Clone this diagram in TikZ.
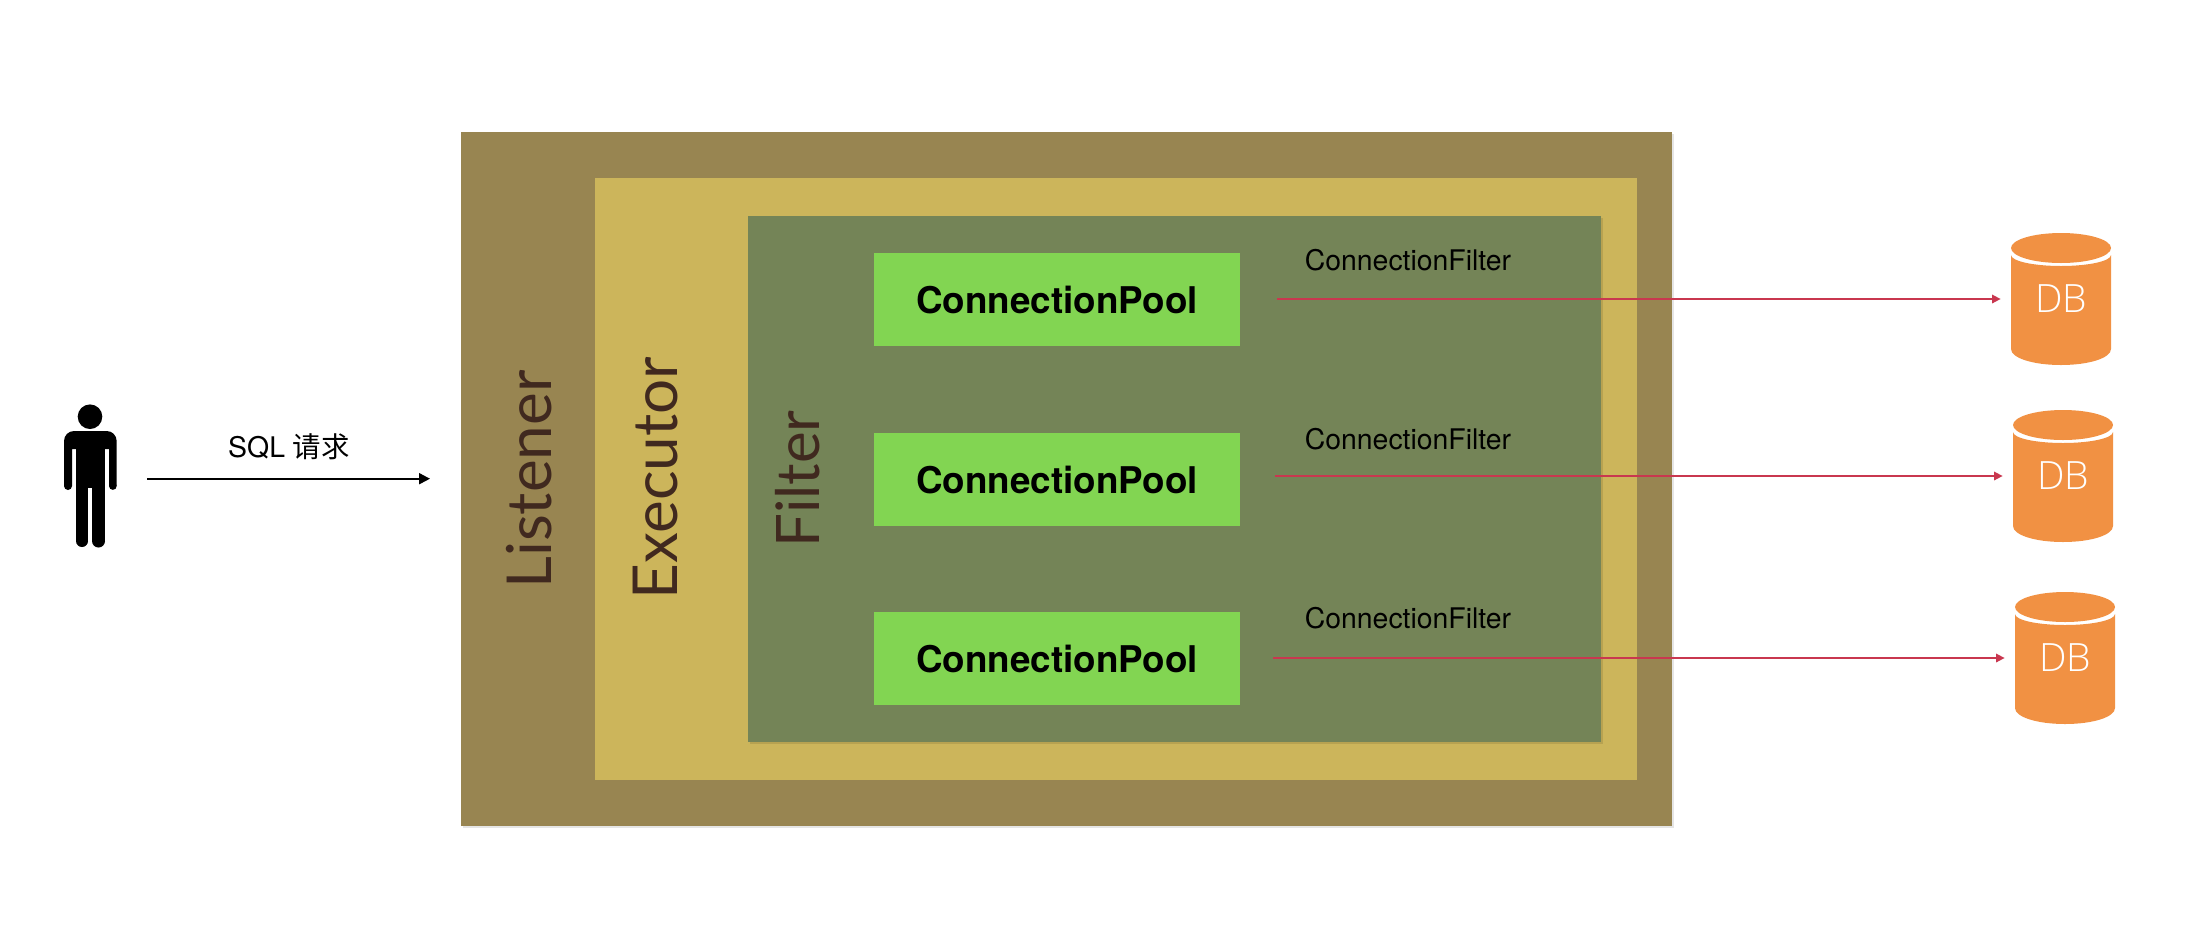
\documentclass[tikz,border=0pt]{standalone}
\usepackage{fontspec}
\setmainfont{TeX Gyre Heros}
\newfontfamily\cjkf{Noto Sans CJK SC}
\newfontfamily\handf{Lato}
\newfontfamily\dbf{Open Sans Light}
\usetikzlibrary{arrows.meta,calc,shadows}
\definecolor{outerc}{HTML}{988551}
\definecolor{execc}{HTML}{CCB55B}
\definecolor{filterc}{HTML}{748457}
\definecolor{poolc}{HTML}{82D552}
\definecolor{dbc}{HTML}{F19143}
\definecolor{redc}{HTML}{C9374F}
\definecolor{handc}{HTML}{40291F}
\tikzset{
  x=0.5pt,y=-0.5pt,
  panel/.style={draw=none,inner sep=0pt,outer sep=0pt,anchor=north west},
  softshadow/.style={drop shadow={shadow xshift=1pt,shadow yshift=-1pt,opacity=0.1,fill=black}},
  poolbox/.style={panel,fill=poolc,minimum width=183pt,minimum height=46.5pt,anchor=center,text height=14.2pt,text depth=0pt,font=\fontsize{18.4pt}{20pt}\selectfont\bfseries},
  hand/.style={rotate=90,anchor=base,text=handc,inner sep=0pt},
  filterlabel/.style={inner sep=0pt,font=\fontsize{14.2pt}{16pt}\selectfont},
  dbtext/.style={inner sep=0pt,text=white,font=\dbf\fontsize{19.5pt}{20pt}\selectfont},
  dbanchor/.style={inner sep=0pt,minimum width=50pt,minimum height=66pt},
  redarrow/.style={draw=redc,line width=0.8pt,-{Triangle[length=4.2pt,width=4.2pt]},shorten >=5pt},
}
\newcommand{\dbshape}[1]{%
  \fill[dbc] ($(#1)+(-50,-44)$) .. controls ($(#1)+(-50,-38)$) and ($(#1)+(-28,-33)$) .. ($(#1)+(0,-33)$)
     .. controls ($(#1)+(28,-33)$) and ($(#1)+(50,-38)$) .. ($(#1)+(50,-44)$)
     -- ($(#1)+(50,50)$) .. controls ($(#1)+(50,59)$) and ($(#1)+(28,66)$) .. ($(#1)+(0,66)$)
     .. controls ($(#1)+(-28,66)$) and ($(#1)+(-50,59)$) .. ($(#1)+(-50,50)$) -- cycle;
  \fill[dbc] ($(#1)+(0,-51)$) ellipse[x radius=50,y radius=15];
}
\begin{document}
\begin{tikzpicture}
\useasboundingbox (0,0) rectangle (2190,938);
\fill[white] (0,0) rectangle (2190,938);
% panels
\node[panel,fill=outerc,minimum width=605.5pt,minimum height=347pt,softshadow] (listener) at (461,132) {};
\node[panel,fill=execc,minimum width=521pt,minimum height=301pt] (executor) at (595,178) {};
\node[panel,fill=filterc,minimum width=426.5pt,minimum height=263pt,softshadow] (filter) at (748,216) {};
% vertical labels
\node[hand,font=\handf\fontsize{31pt}{33pt}\selectfont] (llabel) at (551,479.5) {Listener};
\node[hand,font=\handf\fontsize{31pt}{33pt}\selectfont] (elabel) at (677,478) {Executor};
\node[hand,font=\handf\fontsize{30pt}{33pt}\selectfont] (flabel) at (819,479) {Filter};
% pools
\node[poolbox] (pool1) at (1057,299.5) {ConnectionPool};
\node[poolbox] (pool2) at (1057,479) {ConnectionPool};
\node[poolbox] (pool3) at (1057,658.5) {ConnectionPool};
% labels
\node[filterlabel] (cf1) at (1408,260) {ConnectionFilter};
\node[filterlabel] (cf2) at (1408,439) {ConnectionFilter};
\node[filterlabel] (cf3) at (1408,618.3) {ConnectionFilter};
% databases
\node[dbanchor] (db1) at (2061,299) {};
\node[dbanchor] (db2) at (2063,476) {};
\node[dbanchor] (db3) at (2065,658) {};
\dbshape{db1}\dbshape{db2}\dbshape{db3}
\node[dbtext] (dbt1) at (db1) {DB};
\node[dbtext] (dbt2) at (db2) {DB};
\node[dbtext] (dbt3) at (db3) {DB};
% red arrows
\coordinate (s1) at (1277,299);
\coordinate (s2) at (1275,476);
\coordinate (s3) at (1273,658);
\draw[redarrow] (s1) -- (db1.west);
\draw[redarrow] (s2) -- (db2.west);
\draw[redarrow] (s3) -- (db3.west);
% person
\coordinate (person) at (90,416.7);
\fill[black] (person) circle[radius=12.3];
\fill[black] (64,486) [rounded corners=5pt] -- (64,431) -- (116.7,431) [sharp corners] -- (116.7,486) -- (109,486) -- (109,449) -- (72,449) -- (72,486) -- cycle;
\fill[black] (68,486) circle[radius=4];
\fill[black] (112.85,486) circle[radius=3.85];
\fill[black] (76,445) rectangle (105,488);
\fill[black] (76,488) rectangle (88,541);
\fill[black] (92,488) rectangle (105,541);
\fill[black] (82,541) circle[radius=6];
\fill[black] (98.5,541) circle[radius=6.5];
\coordinate (reqs) at (147,478.7);
\coordinate (reqe) at (430,478.7);
\draw[black,line width=1pt,-{Triangle[length=5.5pt,width=5.5pt]}] (reqs) -- (reqe);
\node[inner sep=0pt,font=\fontsize{14.2pt}{16pt}\selectfont] (sql) at (289,447) {SQL {\cjkf 请求}};
\end{tikzpicture}
\end{document}
